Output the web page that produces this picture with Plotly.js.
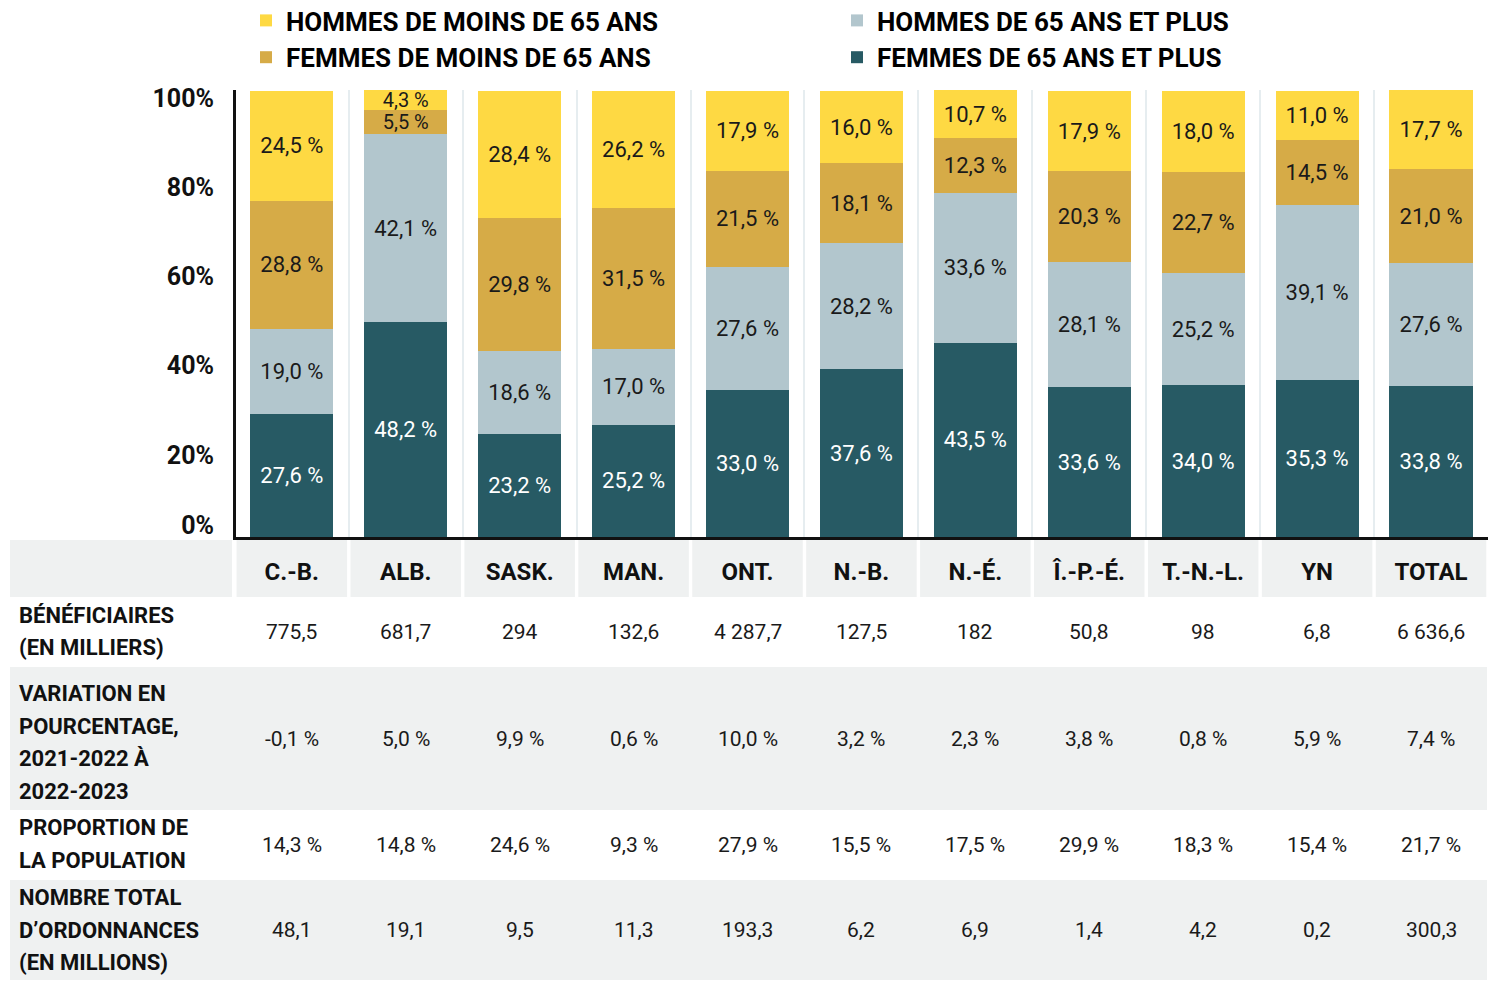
<!DOCTYPE html>
<html><head><meta charset="utf-8">
<script src="https://cdn.plot.ly/plotly-3.0.1.min.js"></script>
<style>html,body{margin:0;padding:0;background:#fff}</style>
</head><body><div id="chart" style="width:1500px;height:992px"></div>
<script>
// ---- Data ----
const categories = ['C.-B.','ALB.','SASK.','MAN.','ONT.','N.-B.','N.-É.','Î.-P.-É.','T.-N.-L.','YN','TOTAL'];
const femmes65Plus  = [27.6, 48.2, 23.2, 25.2, 33.0, 37.6, 43.5, 33.6, 34.0, 35.3, 33.8];
const hommes65Plus  = [19.0, 42.1, 18.6, 17.0, 27.6, 28.2, 33.6, 28.1, 25.2, 39.1, 27.6];
const femmesMoins65 = [28.8,  5.5, 29.8, 31.5, 21.5, 18.1, 12.3, 20.3, 22.7, 14.5, 21.0];
const hommesMoins65 = [24.5,  4.3, 28.4, 26.2, 17.9, 16.0, 10.7, 17.9, 18.0, 11.0, 17.7];
const seriesNames = ['FEMMES DE 65 ANS ET PLUS','HOMMES DE 65 ANS ET PLUS','FEMMES DE MOINS DE 65 ANS','HOMMES DE MOINS DE 65 ANS'];
const yTickVals = [20, 40, 60, 80, 100];
const yTickText = ['20%', '40%', '60%', '80%', '100%'];
const yZeroTickVals = [0];
const yZeroTickText = ['0%'];

const rowLabels = [
  ['BÉNÉFICIAIRES','(EN MILLIERS)'],
  ['VARIATION EN','POURCENTAGE,','2021-2022 À','2022-2023'],
  ['PROPORTION DE','LA POPULATION'],
  ['NOMBRE TOTAL','D’ORDONNANCES','(EN MILLIONS)']
];
const beneficiaires = ['775,5','681,7','294','132,6','4 287,7','127,5','182','50,8','98','6,8','6 636,6'];
const variation     = ['-0,1 %','5,0 %','9,9 %','0,6 %','10,0 %','3,2 %','2,3 %','3,8 %','0,8 %','5,9 %','7,4 %'];
const proportion    = ['14,3 %','14,8 %','24,6 %','9,3 %','27,9 %','15,5 %','17,5 %','29,9 %','18,3 %','15,4 %','21,7 %'];
const ordonnances   = ['48,1','19,1','9,5','11,3','193,3','6,2','6,9','1,4','4,2','0,2','300,3'];
const tableRows = [beneficiaires, variation, proportion, ordonnances];

// ---- Styles / layout geometry ----
const W = 1500, H = 992, ML = 236, MR = 12, MT = 90, MB = 455;
const PW = W - ML - MR, PH = H - MT - MB;
const xp = px => (px - ML) / PW;
const yp = py => (H - MB - py) / PH;
const colors = ['#275A64', '#B2C6CD', '#D6AB47', '#FED943'];
const textColors = ['#ffffff', '#1a1a1a', '#1a1a1a', '#1a1a1a'];
const ranks = [4, 2, 3, 1];
const FONT = 'Roboto, "Noto Sans", sans-serif';
const GREY = '#EFF1F1';
const Y_RANGE = [0, 100.2];

const seriesValues = [femmes65Plus, hommes65Plus, femmesMoins65, hommesMoins65];
const traces = seriesValues.map((vals, i) => ({
  type: 'bar',
  name: seriesNames[i],
  x: categories,
  y: vals,
  marker: {color: colors[i], line: {width: 0}},
  legendrank: ranks[i],
  texttemplate: '%{y:.1f} %',
  textposition: 'inside',
  insidetextanchor: 'middle',
  textangle: 0,
  constraintext: 'none',
  textfont: {family: FONT, size: vals.map(v => v < 6 ? 20 : 22), color: textColors[i]},
  hoverinfo: 'skip',
  cliponaxis: false
}));
// invisible helper trace so the 0% label is drawn by its own (overlaying) axis
traces.push({type:'scatter', x:[categories[0]], y:[0], yaxis:'y2', mode:'markers',
  marker:{opacity:0}, showlegend:false, hoverinfo:'skip'});

// ---- Table (shapes + annotations) ----
const shapes = [];
const annotations = [];
shapes.push({type:'rect', layer:'below', xref:'paper', yref:'paper', x0:xp(10), x1:xp(232), y0:yp(597), y1:yp(540), fillcolor:GREY, line:{width:0}});
categories.forEach((c, i) => {
  shapes.push({type:'rect', layer:'below', xref:'x', yref:'paper', x0:i-0.5+0.015, x1:i+0.5-0.015, y0:yp(597), y1:yp(540), fillcolor:GREY, line:{width:0}});
});
shapes.push({type:'rect', layer:'below', xref:'paper', yref:'paper', x0:xp(10), x1:xp(1487), y0:yp(810), y1:yp(667), fillcolor:GREY, line:{width:0}});
shapes.push({type:'rect', layer:'below', xref:'paper', yref:'paper', x0:xp(10), x1:xp(1487), y0:yp(980), y1:yp(880), fillcolor:GREY, line:{width:0}});

const rowCenters = [632, 739, 845, 930];
const labelCenters = [631.5, 742.5, 844, 930];
const lineGap = 32.5;
rowLabels.forEach((lines, r) => {
  const n = lines.length;
  lines.forEach((t, k) => {
    const py = labelCenters[r] + (k - (n - 1) / 2) * lineGap;
    annotations.push({xref:'paper', yref:'paper', x:xp(17), y:yp(py), xanchor:'left', yanchor:'middle',
      text:t, showarrow:false, font:{family:FONT, size:22, weight:'bold', color:'#111'}});
  });
});
tableRows.forEach((vals, r) => {
  vals.forEach((v, i) => {
    annotations.push({xref:'x', yref:'paper', x:categories[i], y:yp(rowCenters[r]), xanchor:'center', yanchor:'middle',
      text:v, showarrow:false, font:{family:FONT, size:21, color:'#1a1a1a'}});
  });
});

const tickFontY = {family:FONT, size:25, weight:'bold', color:'#111'};
const layout = {
  width: W, height: H,
  margin: {l: ML, r: MR, t: MT, b: MB, pad: 0, autoexpand: false},
  paper_bgcolor: '#ffffff', plot_bgcolor: 'rgba(0,0,0,0)',
  barmode: 'stack', bargap: 0.27,
  separators: ', ',
  showlegend: true,
  legend: {orientation:'h', x:xp(246), xanchor:'left', y:yp(-3), yanchor:'top',
    traceorder:'normal', entrywidth:546, font:{family:FONT, size:26, weight:'bold', color:'#000'},
    bgcolor:'rgba(0,0,0,0)'},
  xaxis: {type:'category', range:[-0.49, 10.5], showline:true, linecolor:'#111', linewidth:3,
    ticks:'', tickson:'boundaries', showgrid:true, gridcolor:'#E6EDF0', gridwidth:2,
    tickfont:{family:FONT, size:24, weight:'bold', color:'#111'}, ticklabelstandoff:11, fixedrange:true},
  yaxis: {range:Y_RANGE, tickvals:yTickVals, ticktext:yTickText, showline:true, linecolor:'#111', linewidth:3,
    ticks:'', showgrid:false, zeroline:false, ticklabelstandoff:14, ticklabelshift:7,
    tickfont:tickFontY, fixedrange:true},
  yaxis2: {overlaying:'y', side:'left', range:Y_RANGE, tickvals:yZeroTickVals, ticktext:yZeroTickText,
    showline:false, ticks:'', showgrid:false, zeroline:false, ticklabelstandoff:21, ticklabelshift:-12,
    tickfont:tickFontY, fixedrange:true},
  shapes: shapes,
  annotations: annotations
};
Plotly.newPlot('chart', traces, layout, {displayModeBar:false, staticPlot:true});
</script></body></html>
